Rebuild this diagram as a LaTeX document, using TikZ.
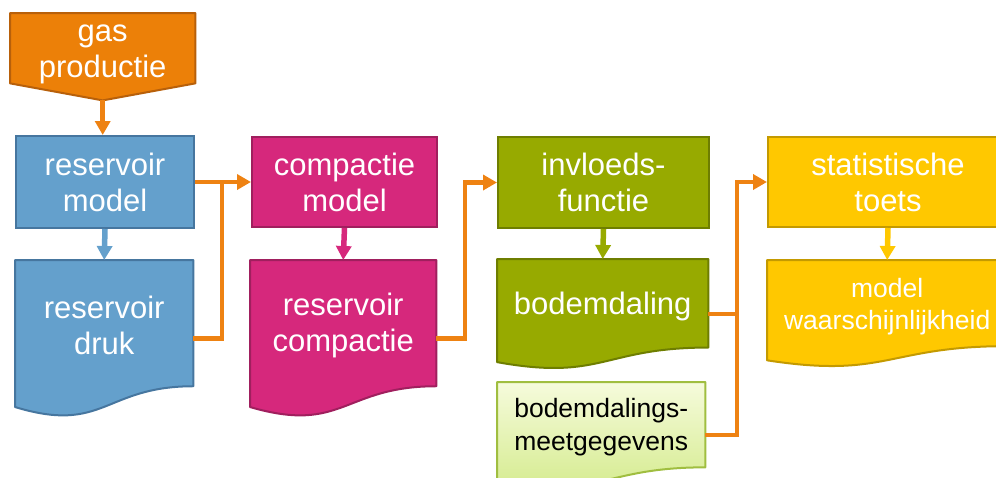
\documentclass[tikz,border=0pt]{standalone}
\usepackage{fontspec}
\setmainfont{Liberation Sans}
\usetikzlibrary{arrows.meta,calc}
\definecolor{orF}{HTML}{EC8008}
\definecolor{orD}{HTML}{B8600A}
\definecolor{connC}{HTML}{EE8212}
\definecolor{blF}{HTML}{64A0CC}
\definecolor{blD}{HTML}{46769F}
\definecolor{mgF}{HTML}{D6287C}
\definecolor{mgD}{HTML}{A01F5E}
\definecolor{gnF}{HTML}{97AA00}
\definecolor{gnD}{HTML}{6E7E00}
\definecolor{ylF}{HTML}{FFC800}
\definecolor{ylD}{HTML}{C49A00}
\definecolor{lgT}{HTML}{F6FBDC}
\definecolor{lgB}{HTML}{D2EA88}
\definecolor{lgD}{HTML}{A0BE40}
\begin{document}
\begin{tikzpicture}[x=1pt,y=-1pt,
  bigtxt/.style={font=\fontsize{31}{36}\selectfont, text=white, align=center, inner sep=0pt},
  smalltxt/.style={font=\fontsize{26.5}{32.5}\selectfont, align=center, inner sep=0pt},
  procbox/.style={line width=2pt, inner sep=0pt, anchor=north west, bigtxt},
  shapearea/.style={inner sep=0pt, anchor=north west, draw=none},
  outline/.style={line width=2pt, line join=round},
  connline/.style={draw=connC, line width=4.5pt},
  arr/.style={-{Triangle[length=14pt,width=15pt]}},
  downarr/.style={line width=5.5pt, -{Triangle[length=14pt,width=15pt]}},
]
\useasboundingbox (0,0) rectangle (996,477);

% gas productie (off-page pentagon)
\node[shapearea, minimum width=185pt, minimum height=87pt] (gas) at (10,13) {};
\path[outline, fill=orF, draw=orD] (gas.north west) -- (gas.north east)
  -- ($(gas.north east)!0.805!(gas.south east)$) -- (gas.south)
  -- ($(gas.north west)!0.805!(gas.south west)$) -- cycle;
\node[bigtxt] (gast) at ($(gas.center)+(0,-2.5)$) {gas\\productie};

% process boxes
\node[procbox, fill=blF, draw=blD, minimum width=178pt, minimum height=92pt] (rmod) at (15,135) {reservoir\\model};
\node[procbox, fill=mgF, draw=mgD, minimum width=185pt, minimum height=90pt] (cmod) at (251,136) {compactie\\model};
\node[procbox, fill=gnF, draw=gnD, minimum width=211pt, minimum height=91pt] (invl) at (497,136) {invloeds-\\functie};
\node[procbox, fill=ylF, draw=ylD, minimum width=240pt, minimum height=90pt] (stat) at (767,136) {statistische\\toets};

% document shapes
\node[shapearea, minimum width=178pt, minimum height=157pt] (druk) at (15,260) {};
\node[shapearea, minimum width=186pt, minimum height=157pt] (rc) at (250,260) {};
\node[shapearea, minimum width=211pt, minimum height=110pt] (bod) at (497,259) {};
\node[shapearea, minimum width=240pt, minimum height=107pt] (mw) at (767,260) {};
\node[shapearea, minimum width=208pt, minimum height=106pt] (meet) at (497,382) {};

\foreach \n/\f/\d in {druk/blF/blD, rc/mgF/mgD, bod/gnF/gnD, mw/ylF/ylD}{
  \path[outline, fill=\f, draw=\d] (\n.north west) -- (\n.north east)
    -- ($(\n.north east)!0.802!(\n.south east)$)
    .. controls ($(\n.north)!0.802!(\n.south)$) and ($(\n.north)!1.107!(\n.south)$)
    .. ($(\n.north west)!0.934!(\n.south west)$) -- cycle;
}
\path[outline, draw=lgD, top color=lgT, bottom color=lgB] (meet.north west) -- (meet.north east)
    -- ($(meet.north east)!0.802!(meet.south east)$)
    .. controls ($(meet.north)!0.802!(meet.south)$) and ($(meet.north)!1.107!(meet.south)$)
    .. ($(meet.north west)!0.934!(meet.south west)$) -- cycle;

\node[bigtxt] (drukt) at ($(druk.center)+(0,-13)$) {reservoir\\druk};
\node[bigtxt] (rct) at ($(rc.center)+(0,-13)$) {reservoir\\compactie};
\node[bigtxt] (bodt) at ($(bod.center)+(0,-8)$) {bodemdaling};
\node[smalltxt, text=white] (mwt) at ($(mw.center)+(0,-7)$) {model\\waarschijnlijkheid};
\node[smalltxt, text=black] (meett) at ($(meet.center)+(0,-8)$) {bodemdalings-\\meetgegevens};

% vertical arrows
\draw[connline, arr] (gas.south) -- (gas.south |- rmod.north);
\draw[downarr, blF] (rmod.south) -- (druk.north);
\draw[downarr, mgF] (cmod.south) -- (rc.north);
\draw[downarr, gnF] (invl.south) -- (bod.north);
\draw[downarr, ylF] (stat.south) -- (mw.north);

% orange connectors
\coordinate (x1) at (222,0);
\coordinate (x2) at (465,0);
\coordinate (x3) at (737,0);
\coordinate (j1) at (x1 |- rmod.east);
\coordinate (j2) at (x2 |- invl.west);
\coordinate (j3) at (x3 |- stat.west);
\draw[connline, arr] (rmod.east) -- (cmod.west);
\draw[connline] (druk.east) -| (j1);
\draw[connline, arr] (rc.east) -| (j2) -- (invl.west);
\draw[connline, arr] (bod.east) -| (j3) -- (stat.west);
\draw[connline] (meet.east) -| (j3);
\end{tikzpicture}
\end{document}
